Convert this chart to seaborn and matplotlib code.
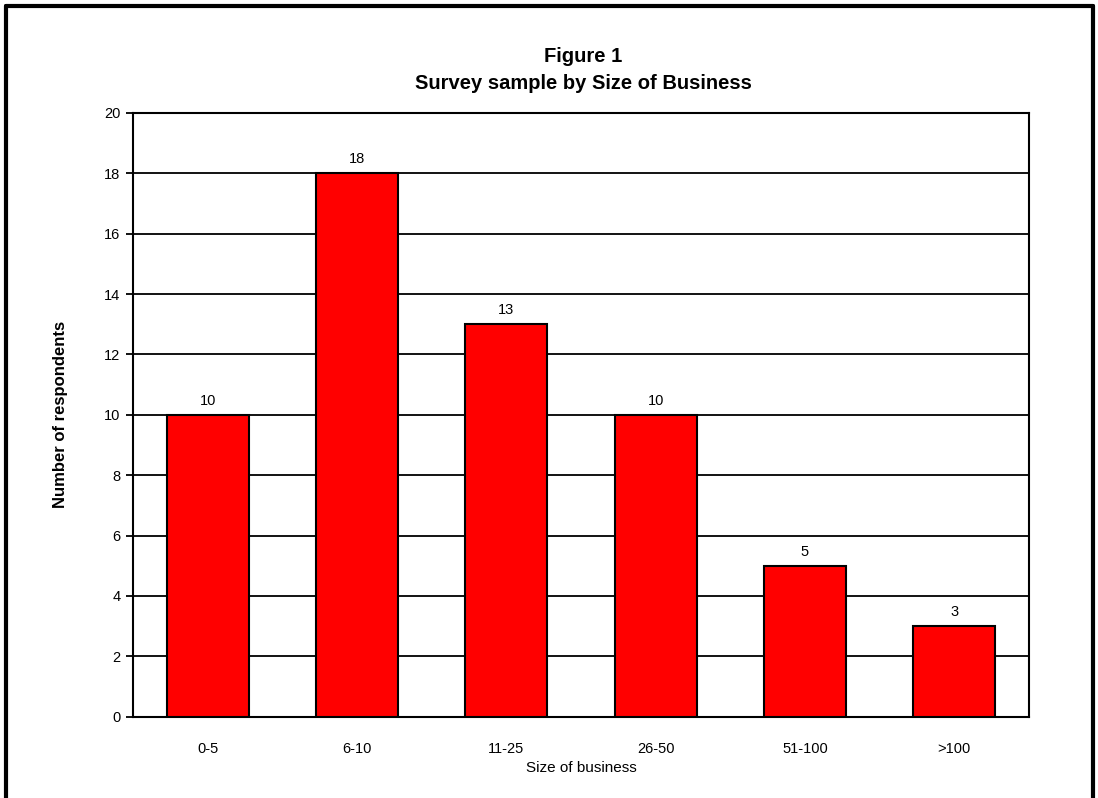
import matplotlib
matplotlib.use("Agg")
import matplotlib.pyplot as plt
import seaborn as sns
import pandas as pd
import numpy as np
from matplotlib.lines import Line2D

categories = ["0-5", "6-10", "11-25", "26-50", "51-100", ">100"]
values = [10, 18, 13, 10, 5, 3]
yticks = [0, 2, 4, 6, 8, 10, 12, 14, 16, 18, 20]

sns.set_theme(style="white")
plt.rcParams['font.family'] = ['Liberation Sans', 'DejaVu Sans']

fig = plt.figure(figsize=(10.98, 7.98), dpi=100)
ax = fig.add_axes([133/1098, 1-716.7/798, (1029-133)/1098, (716.7-113)/798])

df = pd.DataFrame({"cat": categories, "val": values})
sns.barplot(data=df, x="cat", y="val", ax=ax, color="#FF0000", width=0.55,
            edgecolor="black", linewidth=1.5, saturation=1, zorder=3)

ax.set_ylim(0, 20)
ax.set_xlim(-0.5, len(categories) - 0.5)
ax.set_yticks(yticks)
ax.yaxis.grid(True, color="black", linewidth=1.3, zorder=0)
ax.set_axisbelow(True)
for s in ax.spines.values():
    s.set_visible(True)
    s.set_color("black")
    s.set_linewidth(1.5)

fs = 10.5
ax.set_xticks(np.arange(len(categories)))
ax.set_xticklabels(categories, fontsize=fs)
ax.tick_params(axis="x", which="major", length=0, pad=18)
ax.set_xticks(np.arange(len(categories) + 1) - 0.5, minor=True)
ax.tick_params(axis="x", which="minor", direction="out", length=5, width=1.3, color="black")
ax.tick_params(axis="y", direction="out", length=5, width=1.3, color="black", labelsize=fs, pad=4)
ax.tick_params(axis="both", colors="black", left=True, bottom=True)
ax.tick_params(axis="x", which="major", bottom=False)

for i, v in enumerate(values):
    ax.annotate(str(v), (i, v), xytext=(0, 5), textcoords="offset points",
                ha="center", va="bottom", fontsize=fs, color="black")

ax.set_xlabel("Size of business", fontsize=11, color="black")
ax.xaxis.set_label_coords(0.5, (716.7-768)/603.7)
ax.xaxis.label.set_va("center")
ax.set_ylabel("Number of respondents", fontsize=12, fontweight="bold", color="black")
ax.yaxis.set_label_coords((60-133)/896, 0.5)
ax.yaxis.label.set_va("center")

fig.text(583/1098, 1-62/798, "Figure 1", ha="center", va="baseline",
         fontsize=14.5, fontweight="bold", color="black")
fig.text(583/1098, 1-89/798, "Survey sample by Size of Business", ha="center", va="baseline",
         fontsize=14.5, fontweight="bold", color="black")

# outer border
lw = 3
fig.add_artist(Line2D([6/1098, 6/1098], [0, 1-6/798], transform=fig.transFigure, color="black", linewidth=lw))
fig.add_artist(Line2D([6/1098, 1093/1098], [1-6/798, 1-6/798], transform=fig.transFigure, color="black", linewidth=lw))
fig.add_artist(Line2D([1093/1098, 1093/1098], [0, 1-6/798], transform=fig.transFigure, color="black", linewidth=lw))

fig.savefig("out.png", dpi=100)
